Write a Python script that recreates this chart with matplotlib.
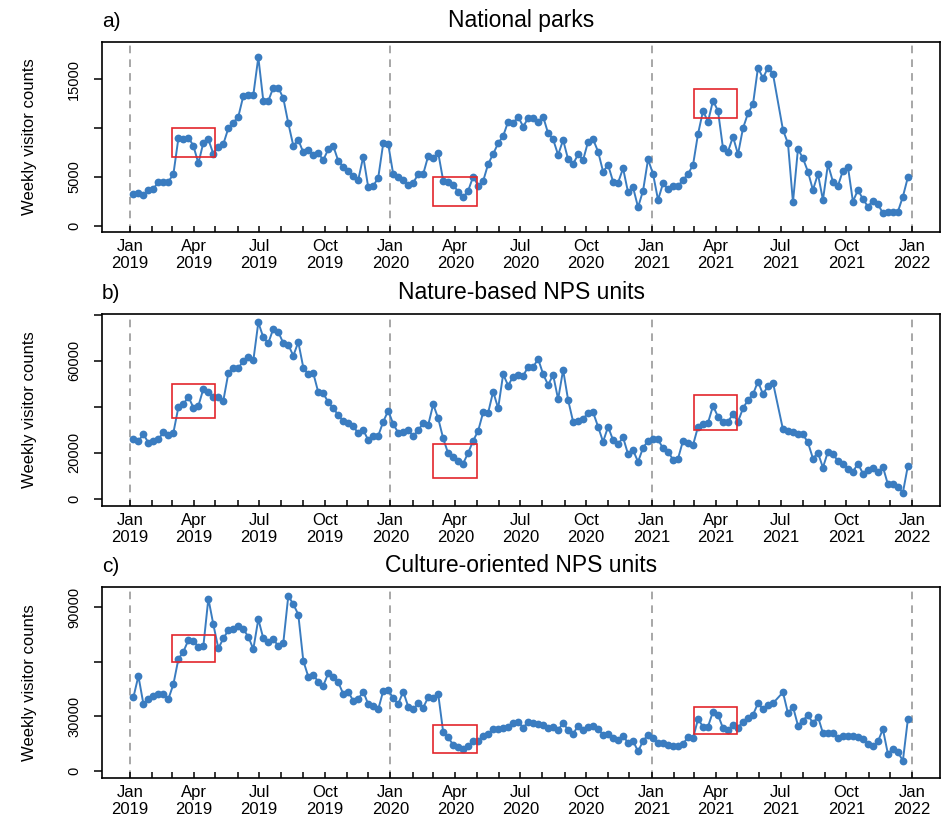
import matplotlib
matplotlib.use("Agg")
import matplotlib.pyplot as plt
import matplotlib.dates as mdates
from matplotlib.patches import Rectangle
import pandas as pd

plt.rcParams["font.family"] = ["Liberation Sans", "DejaVu Sans"]

# weekly dates; the week of 2021-06-27 is missing in the source series
weeks = pd.date_range("2019-01-06", "2021-12-26", freq="7D")
weeks = weeks[weeks != pd.Timestamp("2021-06-27")]

national_parks = [
    3240, 3380, 3110, 3650, 3750, 4510, 4510, 4510, 5260, 8940,
    8840, 9010, 8190, 6380, 8500, 8840, 7340, 8090, 8360, 9970,
    10550, 11160, 13280, 13380, 13380, 17240, 12770, 12770, 14130, 14130,
    13040, 10480, 8190, 8770, 7510, 7750, 7240, 7410, 6720, 7820,
    8160, 6620, 6040, 5630, 5120, 4680, 7070, 3920, 4060, 4910,
    8430, 8330, 5260, 5020, 4680, 4160, 4400, 5260, 5290, 7130,
    6890, 7470, 4610, 4510, 4160, 3480, 2900, 3580, 5020, 4100,
    4570, 6310, 7340, 8430, 9180, 10650, 10480, 11160, 10140, 10990,
    10990, 10650, 11160, 9450, 8840, 7240, 8770, 6790, 6310, 7300,
    6720, 8600, 8840, 7580, 5530, 6210, 4510, 4400, 5870, 3410,
    3920, 1880, 3580, 6790, 5290, 2630, 4330, 3720, 4060, 4060,
    4680, 5290, 6210, 9390, 11740, 10650, 12800, 11740, 7920, 7580,
    9110, 7300, 9970, 11500, 12420, 16180, 15090, 16180, 15530,
    9800, 8430, 2390, 7850, 6890, 5530, 3650, 5290, 2630, 6280,
    4510, 4060, 5630, 6040, 2460, 3650, 2730, 1950, 2560, 2220,
    1260, 1430, 1370, 1430, 2970, 4950,
]

nature_units = [
    25780, 25060, 28110, 24330, 25060, 25780, 28990, 27530, 28700, 39770,
    41080, 44430, 39620, 40350, 47780, 46610, 44140, 44140, 42680, 54630,
    56810, 56810, 60020, 61470, 60160, 76770, 70210, 67740, 74000, 72540,
    67740, 67010, 62200, 68170, 57100, 54190, 54630, 46320, 45890, 41950,
    39330, 36420, 33800, 33070, 31610, 28410, 29860, 25490, 27390, 27390,
    33500, 38310, 32480, 28700, 28840, 29860, 27240, 29860, 32780, 32050,
    41080, 34960, 26220, 19670, 17920, 16460, 15300, 19960, 25200, 29570,
    37580, 37440, 46610, 39330, 54190, 49240, 53170, 53900, 53610, 57250,
    57250, 60890, 54190, 49530, 53900, 43260, 56080, 42970, 33500, 33800,
    34670, 37440, 37580, 31320, 24760, 31320, 25490, 23740, 26660, 19370,
    21120, 16020, 22140, 25200, 25930, 25780, 21850, 20390, 17040, 17480,
    25200, 24040, 23310, 31320, 32480, 33070, 40350, 35690, 33500, 33500,
    36850, 33500, 39330, 42970, 45450, 50980, 45450, 49090, 50550,
    30150, 29570, 28840, 28110, 27970, 24470, 17480, 19960, 13550, 20390,
    19370, 16460, 15300, 13110, 11650, 15300, 10930, 12380, 13400, 11650,
    13840, 6260, 6260, 5100, 2620, 14280,
]

culture_units = [
    40500, 52230, 36840, 39580, 41420, 42330, 42330, 39580, 47650, 61570,
    65610, 72020, 71650, 68360, 68720, 94930, 80630, 67440, 72940, 77520,
    78070, 79900, 78070, 73850, 67070, 83570, 72940, 70740, 72570, 68720,
    70560, 96390, 91810, 86130, 60660, 51860, 52780, 49110, 46910, 53700,
    51500, 48750, 42330, 43620, 38480, 39580, 43620, 36650, 35740, 33900,
    43980, 44530, 39950, 36840, 43620, 35370, 33900, 37200, 34820, 40500,
    39950, 42330, 21260, 18330, 14290, 13010, 12100, 13380, 16490, 16490,
    19430, 20160, 22910, 22910, 23820, 24010, 26210, 27120, 23820, 26760,
    26570, 25840, 25290, 23460, 24370, 22540, 26210, 22540, 20160, 24920,
    22540, 24370, 24920, 23090, 19790, 20160, 17960, 17040, 19430, 15210,
    16490, 10630, 16490, 19790, 17960, 15210, 15210, 14290, 13380, 13740,
    14840, 18510, 17960, 28410, 24370, 24370, 32620, 30790, 23460, 22540,
    25290, 23820, 27120, 29320, 30790, 37200, 33900, 36290, 37200,
    43250, 31700, 35370, 24920, 27670, 30790, 26210, 29870, 20710, 21070,
    21070, 17960, 19240, 19240, 18880, 18330, 17590, 14840, 13380, 16130,
    22910, 9350, 12100, 10260, 5500, 28410,
]

panel_tags = ["a)", "b)", "c)"]
panel_titles = ["National parks", "Nature-based NPS units", "Culture-oriented NPS units"]
series = [national_parks, nature_units, culture_units]

y_ticks = [[0, 5000, 10000, 15000], [0, 20000, 40000, 60000, 80000], [0, 30000, 60000, 90000]]
y_ticklabels = [["0", "5000", "", "15000"], ["0", "20000", "", "60000", ""], ["0", "30000", "", "90000"]]
y_limits = [(-650, 18800), (-3200, 80400), (-4000, 101300)]

# highlighted periods (Mar-Apr of each year) and their y ranges
box_periods = [("2019-03-01", "2019-05-01"), ("2020-03-01", "2020-05-01"), ("2021-03-01", "2021-05-01")]
box_yranges = [
    [(7000, 10000), (2000, 5000), (11000, 14000)],
    [(35000, 50000), (9000, 24000), (30000, 45000)],
    [(60000, 75000), (10000, 25000), (20000, 35000)],
]

year_starts = pd.to_datetime(["2019-01-01", "2020-01-01", "2021-01-01", "2022-01-01"])
month_ticks = pd.date_range("2019-01-01", "2022-01-01", freq="MS")
month_labels = [d.strftime("%b\n%Y") if d.month in (1, 4, 7, 10) else "" for d in month_ticks]

blue = "#3a7cc0"
W, H = 942, 832
fig = plt.figure(figsize=(W / 100, H / 100), dpi=100)

# axes boxes in pixels: (top, bottom)
rows = [(42, 232), (314, 506), (587, 778)]
left, right = 102, 940

for i, (top, bottom) in enumerate(rows):
    ax = fig.add_axes([left / W, 1 - bottom / H, (right - left) / W, (bottom - top) / H])

    for d in year_starts:
        ax.axvline(d, color="#8f8f8f", lw=1.1, ls=(0, (5, 4)), zorder=1)

    ax.plot(weeks, series[i], "-o", color=blue, lw=1.4, ms=5.6, mew=0, zorder=3)

    for (x0, x1), (y0, y1) in zip(box_periods, box_yranges[i]):
        a = mdates.date2num(pd.Timestamp(x0))
        b = mdates.date2num(pd.Timestamp(x1))
        ax.add_patch(Rectangle((a, y0), b - a, y1 - y0, fill=False,
                               edgecolor="#e3262c", lw=1.2, zorder=4))

    ax.set_xlim(pd.Timestamp("2018-11-23"), pd.Timestamp("2022-02-09"))
    ax.set_ylim(*y_limits[i])

    ax.set_xticks(month_ticks)
    ax.set_xticklabels(month_labels, fontsize=12, linespacing=1.15)
    ax.tick_params(axis="x", direction="in", length=4.5, width=1.1, pad=5)

    ax.set_yticks(y_ticks[i])
    ax.set_yticklabels(y_ticklabels[i], rotation=90, va="center", fontsize=10.5)
    ax.tick_params(axis="y", direction="out", length=6, width=1.1, pad=9)

    for s in ax.spines.values():
        s.set_linewidth(1.2)

    ax.annotate(panel_titles[i], xy=(0.5, 1), xycoords="axes fraction", xytext=(0, 11),
                textcoords="offset points", ha="center", va="baseline", fontsize=16.5)
    ax.annotate(panel_tags[i], xy=(0, 1), xycoords="axes fraction", xytext=(0, 11),
                textcoords="offset points", ha="left", va="baseline", fontsize=15)

    fig.text(30 / W, 1 - (top + bottom) / 2 / H, "Weekly visitor counts",
             rotation=90, ha="center", va="center", fontsize=12)

fig.savefig("out.png", dpi=100)
